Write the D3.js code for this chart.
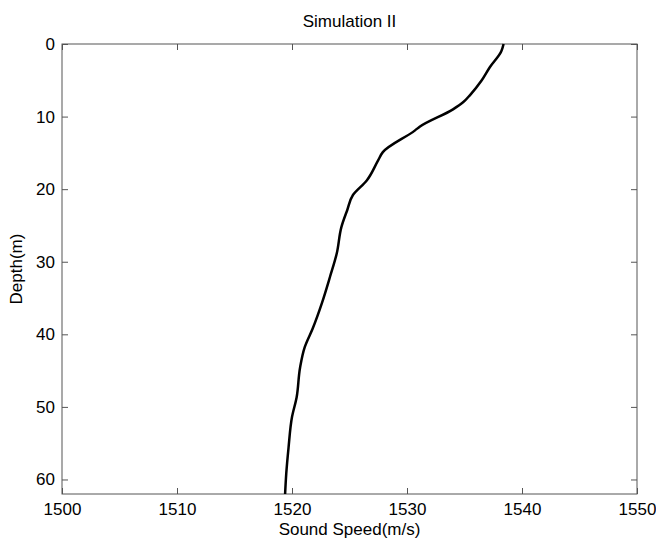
<!DOCTYPE html>
<html><head><meta charset="utf-8">
<script src="https://cdn.jsdelivr.net/npm/d3@7"></script>
<style>body{margin:0;background:#fff}text{font-family:"Liberation Sans",Arial,sans-serif}</style>
</head><body><svg id="c" width="656" height="540"></svg>
<script>
const depth = [0, 1, 3.2, 5, 7, 8, 9, 11.4, 11.9, 14.9, 16, 18.8, 20.8, 22.9, 25.2, 28.8, 32.1, 35.7, 39.2, 41.8, 44.6, 48.7, 51.4, 55.6, 59.2, 62];
const speed = [1538.4, 1538.2, 1537.2, 1536.5, 1535.5, 1534.9, 1534.0, 1531.1, 1530.7, 1527.9, 1527.5, 1526.5, 1525.3, 1524.8, 1524.3, 1523.9, 1523.3, 1522.6, 1521.8, 1521.1, 1520.7, 1520.4, 1520.0, 1519.7, 1519.5, 1519.4];
const xTicks = [1500, 1510, 1520, 1530, 1540, 1550];
const yTicks = [0, 10, 20, 30, 40, 50, 60];

const svg = d3.select("#c");
const L = 62, R = 637, T = 44, B = 494;
const x = d3.scaleLinear().domain([1500, 1550]).range([L, R]);
const y = d3.scaleLinear().domain([0, 62]).range([T, B]);
const fs = "17px";

function ax(gen, tr) {
  const g = svg.append("g").attr("transform", tr).call(gen);
  g.select(".domain").remove();
  g.selectAll(".tick line").attr("stroke", "#555");
  g.selectAll("text").style("font-size", fs).attr("fill", "#000");
  return g;
}
ax(d3.axisBottom(x).tickValues(xTicks).tickSize(-6).tickPadding(9).tickFormat(d3.format("d")), `translate(0,${B})`);
ax(d3.axisTop(x).tickValues(xTicks).tickSize(-6).tickFormat(""), `translate(0,${T})`);
ax(d3.axisLeft(y).tickValues(yTicks).tickSize(-6).tickPadding(7).tickFormat(d3.format("d")), `translate(${L},0)`);
ax(d3.axisRight(y).tickValues(yTicks).tickSize(-6).tickFormat(""), `translate(${R},0)`);

svg.append("rect").attr("x", L).attr("y", T).attr("width", R - L).attr("height", B - T)
  .attr("fill", "none").attr("stroke", "#555").attr("stroke-width", 1);

const data = depth.map((d, i) => [speed[i], d]);
svg.append("path").datum(data)
  .attr("fill", "none").attr("stroke", "#000").attr("stroke-width", 2.5)
  .attr("stroke-linejoin", "round")
  .attr("d", d3.line().x(d => x(d[0])).y(d => y(d[1])).curve(d3.curveMonotoneY));

svg.append("text").attr("x", (L + R) / 2).attr("y", 27).attr("text-anchor", "middle")
  .style("font-size", fs).text("Simulation II");
svg.append("text").attr("x", (L + R) / 2).attr("y", 535).attr("text-anchor", "middle")
  .style("font-size", fs).text("Sound Speed(m/s)");
svg.append("text").attr("transform", `translate(22,${(T + B) / 2}) rotate(-90)`).attr("text-anchor", "middle")
  .style("font-size", fs).text("Depth(m)");
</script></body></html>
